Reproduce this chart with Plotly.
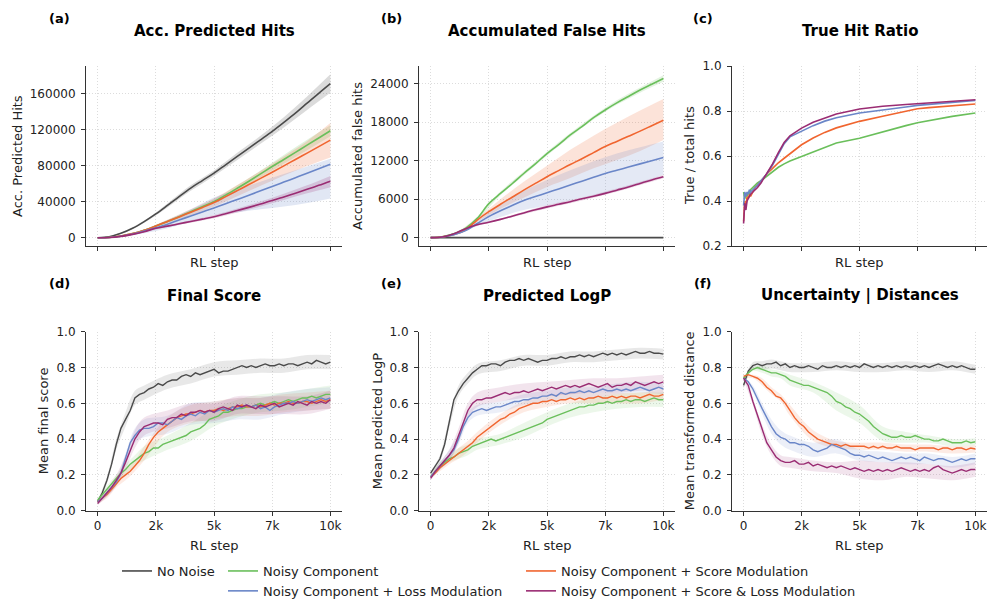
import plotly.graph_objects as go

# ---------------- series definitions ----------------
SERIES = ["No Noise", "Noisy Component", "Noisy Component + Score Modulation",
          "Noisy Component + Loss Modulation", "Noisy Component + Score & Loss Modulation"]
COLORS = ["#4a4a4a", "#6abf5b", "#f0652f", "#6a86c8", "#9a2c73"]
LEGEND_OF = ["legend", "legend2", "legend3", "legend2", "legend3"]

# ---------------- top row: cumulative quantities ----------------
X_TOP = [0, 500, 1000, 1500, 2000, 2500, 3000, 3500, 4000, 4500, 5000,
         5500, 6000, 6500, 7000, 7500, 8000, 8500, 9000, 9500, 10000]
X_TOP_BAND = [0, 1000, 2000, 3000, 4000, 5000, 6000, 7000, 8000, 9000, 10000]

# (a) accumulated predicted hits
hits_none = [0, 1000, 4800, 10400, 17800, 26300, 35800, 45600, 55000, 63300, 71500,
             80800, 90000, 99300, 108500, 117800, 127800, 138000, 149000, 160000, 170700]
hits_noisy = [0, 300, 1800, 4500, 8300, 13000, 18000, 23300, 28800, 34300, 40000,
              47200, 54800, 62600, 70700, 78900, 86700, 94600, 102500, 110500, 118500]
hits_score = [0, 300, 1800, 4500, 8300, 13000, 18000, 23000, 28300, 33500, 38900,
              45500, 52200, 58900, 65700, 72600, 79600, 86700, 93700, 100900, 108100]
hits_loss = [0, 250, 1600, 4000, 7300, 11000, 15000, 19600, 24000, 28500, 33000,
             37700, 42400, 47100, 51900, 56700, 61600, 66500, 71400, 76400, 81500]
hits_both = [0, 250, 1500, 3700, 6700, 10400, 12800, 15400, 18000, 20600, 23300,
             26600, 30100, 33600, 37300, 41100, 45200, 49300, 53600, 58000, 62600]

hits_none_lo = [0, 4000, 16500, 33500, 52000, 68500, 86000, 104000, 122000, 141500, 160500]
hits_none_hi = [0, 5600, 19000, 38000, 58000, 74500, 94000, 113000, 133500, 156500, 181000]
hits_noisy_lo = [0, 1500, 7500, 16500, 26800, 37500, 51500, 67000, 82000, 97000, 112500]
hits_noisy_hi = [0, 2100, 9100, 19500, 30800, 42500, 58000, 74500, 91500, 108500, 124500]
hits_score_lo = [0, 1500, 7400, 16000, 25000, 34500, 46000, 57500, 69000, 79500, 89000]
hits_score_hi = [0, 2100, 9200, 20000, 31600, 43500, 58500, 74000, 90000, 107000, 127000]
hits_loss_lo = [0, 1100, 5000, 10500, 18000, 25000, 28000, 31500, 34500, 38500, 43500]
hits_loss_hi = [0, 2100, 9000, 19500, 31500, 44500, 53500, 62000, 70500, 79000, 87500]
hits_both_lo = [0, 1300, 6100, 11800, 16600, 21500, 27800, 34500, 41800, 49200, 56000]
hits_both_hi = [0, 1700, 7300, 13800, 19400, 25100, 32400, 40100, 48600, 58000, 68500]

# (b) accumulated false hits
false_none = [0] * 21
false_noisy = [0, 150, 600, 1450, 3000, 5300, 6900, 8400, 10000, 11500, 13100,
               14500, 16000, 17300, 18700, 19900, 21000, 22000, 23000, 23900, 24800]
false_score = [0, 120, 500, 1200, 2750, 4050, 5200, 6300, 7400, 8450, 9500,
               10450, 11400, 12300, 13250, 14200, 15000, 15800, 16600, 17450, 18300]
false_loss = [0, 100, 450, 1100, 2200, 3300, 4200, 5000, 5800, 6400, 7000,
              7600, 8200, 8800, 9400, 10000, 10500, 11000, 11500, 12000, 12500]
false_both = [0, 100, 600, 1400, 2000, 2400, 2850, 3350, 3850, 4350, 4800,
              5200, 5600, 6050, 6450, 6900, 7400, 7900, 8450, 9000, 9500]

false_noisy_lo = [0, 500, 2800, 6600, 9700, 12800, 15700, 18400, 20700, 22600, 24300]
false_noisy_hi = [0, 700, 3200, 7200, 10300, 13400, 16300, 19000, 21400, 23400, 25300]
false_score_lo = [0, 420, 2450, 4500, 6200, 7900, 9300, 10800, 12100, 13500, 15200]
false_score_hi = [0, 580, 3050, 6000, 8700, 11200, 13700, 15900, 17900, 19800, 21600]
false_loss_lo = [0, 350, 1800, 3200, 4300, 5000, 5800, 6600, 7400, 8500, 9800]
false_loss_hi = [0, 550, 2600, 5200, 7300, 9000, 10500, 11900, 13100, 14100, 15000]
false_both_lo = [0, 500, 1850, 2700, 3650, 4550, 5350, 6200, 7150, 8200, 9250]
false_both_hi = [0, 700, 2150, 3000, 4050, 5050, 5850, 6700, 7650, 8700, 9750]

# (c) true / total hits
X_RATIO = [0, 50, 100, 150, 200, 250, 300, 400, 500, 600, 750, 1000, 1250, 1500,
           1750, 2000, 2500, 3000, 3500, 4000, 5000, 6000, 7000, 7500, 8000, 9000, 10000]
ratio_noisy = [0.44, 0.41, 0.43, 0.42, 0.44, 0.43, 0.45, 0.46, 0.47, 0.48, 0.49, 0.51, 0.53, 0.55,
               0.565, 0.578, 0.598, 0.618, 0.638, 0.658, 0.679, 0.708, 0.735, 0.748, 0.758, 0.776, 0.791]
ratio_score = [0.31, 0.40, 0.38, 0.42, 0.41, 0.43, 0.42, 0.44, 0.46, 0.47, 0.49, 0.52, 0.545, 0.57,
               0.59, 0.61, 0.65, 0.68, 0.705, 0.725, 0.754, 0.777, 0.797, 0.81, 0.815, 0.824, 0.831]
ratio_loss = [0.38, 0.44, 0.42, 0.44, 0.43, 0.45, 0.44, 0.45, 0.46, 0.47, 0.49, 0.52, 0.56, 0.61,
              0.655, 0.685, 0.709, 0.735, 0.755, 0.77, 0.791, 0.806, 0.818, 0.825, 0.83, 0.839, 0.847]
ratio_both = [0.30, 0.39, 0.36, 0.40, 0.41, 0.42, 0.43, 0.44, 0.45, 0.46, 0.48, 0.52, 0.565, 0.615,
              0.66, 0.69, 0.724, 0.75, 0.77, 0.787, 0.809, 0.821, 0.829, 0.832, 0.836, 0.843, 0.85]

# ---------------- bottom row: per-step means ----------------
X_STEP = list(range(0, 10001, 200))
X_BAND = [0, 400, 800, 1200, 1600, 2000, 3000, 4000, 5000, 6000, 7000, 8000, 9000, 10000]

# (d) mean final score
score_none = [0.05, 0.10, 0.17, 0.26, 0.37, 0.46, 0.51, 0.56, 0.63, 0.65, 0.66,
              0.68, 0.69, 0.71, 0.70, 0.72, 0.73, 0.73, 0.75, 0.76, 0.75,
              0.77, 0.76, 0.77, 0.78, 0.79, 0.77, 0.78, 0.78, 0.79, 0.80,
              0.81, 0.80, 0.81, 0.80, 0.81, 0.82, 0.81, 0.81, 0.82, 0.81,
              0.82, 0.82, 0.81, 0.82, 0.83, 0.82, 0.84, 0.83, 0.82, 0.83]
score_noisy = [0.06, 0.09, 0.12, 0.15, 0.18, 0.21, 0.23, 0.26, 0.28, 0.30, 0.32,
               0.33, 0.35, 0.35, 0.37, 0.38, 0.39, 0.40, 0.41, 0.42, 0.44,
               0.45, 0.46, 0.48, 0.51, 0.52, 0.53, 0.55, 0.55, 0.56, 0.57,
               0.57, 0.58, 0.58, 0.59, 0.60, 0.59, 0.60, 0.61, 0.60, 0.61,
               0.62, 0.61, 0.62, 0.63, 0.63, 0.64, 0.63, 0.64, 0.65, 0.65]
score_score = [0.05, 0.07, 0.09, 0.12, 0.15, 0.18, 0.20, 0.22, 0.25, 0.28, 0.32,
               0.37, 0.41, 0.44, 0.46, 0.48, 0.50, 0.52, 0.53, 0.54, 0.54,
               0.55, 0.56, 0.55, 0.56, 0.56, 0.57, 0.56, 0.57, 0.58, 0.58,
               0.59, 0.58, 0.58, 0.59, 0.58, 0.59, 0.60, 0.59, 0.60, 0.60,
               0.61, 0.60, 0.60, 0.61, 0.61, 0.60, 0.61, 0.62, 0.61, 0.62]
score_loss = [0.05, 0.07, 0.10, 0.13, 0.16, 0.21, 0.29, 0.38, 0.42, 0.45, 0.46,
              0.46, 0.47, 0.49, 0.49, 0.48, 0.50, 0.52, 0.51, 0.53, 0.54,
              0.53, 0.55, 0.54, 0.56, 0.55, 0.56, 0.57, 0.56, 0.58, 0.57,
              0.58, 0.59, 0.58, 0.59, 0.57, 0.58, 0.56, 0.58, 0.59, 0.60,
              0.60, 0.61, 0.60, 0.61, 0.62, 0.61, 0.62, 0.63, 0.62, 0.63]
score_both = [0.04, 0.07, 0.10, 0.13, 0.17, 0.21, 0.27, 0.34, 0.40, 0.44, 0.47,
              0.48, 0.49, 0.49, 0.48, 0.51, 0.52, 0.52, 0.54, 0.53, 0.55,
              0.55, 0.56, 0.55, 0.56, 0.55, 0.57, 0.58, 0.57, 0.56, 0.59,
              0.58, 0.59, 0.58, 0.57, 0.59, 0.58, 0.59, 0.60, 0.58, 0.59,
              0.60, 0.59, 0.61, 0.60, 0.59, 0.61, 0.60, 0.61, 0.60, 0.62]
score_spread = [
    [0.01, 0.02, 0.03, 0.04, 0.04, 0.04, 0.04, 0.04, 0.04, 0.04, 0.04, 0.04, 0.04, 0.04],
    [0.01, 0.02, 0.02, 0.03, 0.03, 0.04, 0.04, 0.05, 0.05, 0.05, 0.05, 0.05, 0.05, 0.05],
    [0.01, 0.02, 0.02, 0.03, 0.03, 0.04, 0.04, 0.05, 0.05, 0.05, 0.05, 0.05, 0.05, 0.05],
    [0.01, 0.02, 0.02, 0.03, 0.04, 0.05, 0.05, 0.06, 0.06, 0.06, 0.06, 0.06, 0.06, 0.06],
    [0.01, 0.02, 0.03, 0.04, 0.05, 0.05, 0.05, 0.05, 0.05, 0.05, 0.05, 0.05, 0.05, 0.05],
]

# (e) mean predicted LogP
logp_none = [0.21, 0.25, 0.29, 0.37, 0.49, 0.62, 0.67, 0.71, 0.74, 0.77, 0.79,
             0.81, 0.81, 0.82, 0.82, 0.81, 0.83, 0.84, 0.84, 0.85, 0.84,
             0.85, 0.84, 0.83, 0.84, 0.84, 0.85, 0.85, 0.86, 0.85, 0.86,
             0.86, 0.87, 0.86, 0.87, 0.86, 0.87, 0.88, 0.87, 0.88, 0.87,
             0.88, 0.87, 0.88, 0.89, 0.88, 0.88, 0.89, 0.88, 0.88, 0.875]
logp_noisy = [0.19, 0.22, 0.25, 0.27, 0.29, 0.30, 0.32, 0.33, 0.34, 0.36, 0.37,
              0.38, 0.39, 0.40, 0.39, 0.40, 0.41, 0.42, 0.43, 0.44, 0.45,
              0.46, 0.47, 0.48, 0.49, 0.51, 0.52, 0.53, 0.54, 0.55, 0.56,
              0.57, 0.58, 0.58, 0.59, 0.59, 0.60, 0.60, 0.61, 0.60, 0.61,
              0.61, 0.62, 0.61, 0.62, 0.62, 0.61, 0.62, 0.63, 0.62, 0.62]
logp_score = [0.19, 0.21, 0.24, 0.26, 0.28, 0.30, 0.32, 0.34, 0.36, 0.38, 0.41,
              0.43, 0.45, 0.47, 0.49, 0.51, 0.52, 0.54, 0.55, 0.57, 0.58,
              0.59, 0.60, 0.60, 0.61, 0.61, 0.62, 0.61, 0.62, 0.62, 0.63,
              0.62, 0.63, 0.62, 0.63, 0.63, 0.64, 0.63, 0.63, 0.64, 0.63,
              0.64, 0.63, 0.64, 0.64, 0.63, 0.64, 0.65, 0.64, 0.64, 0.65]
logp_loss = [0.19, 0.22, 0.25, 0.28, 0.31, 0.34, 0.40, 0.47, 0.52, 0.55, 0.56,
             0.57, 0.56, 0.57, 0.58, 0.58, 0.59, 0.60, 0.61, 0.61, 0.62,
             0.62, 0.63, 0.63, 0.64, 0.64, 0.65, 0.64, 0.66, 0.65, 0.66,
             0.66, 0.67, 0.66, 0.67, 0.66, 0.67, 0.68, 0.67, 0.67, 0.68,
             0.67, 0.68, 0.67, 0.68, 0.69, 0.68, 0.67, 0.68, 0.69, 0.68]
logp_both = [0.18, 0.22, 0.25, 0.28, 0.31, 0.35, 0.42, 0.50, 0.56, 0.60, 0.62,
             0.62, 0.63, 0.63, 0.64, 0.65, 0.66, 0.65, 0.66, 0.66, 0.67,
             0.66, 0.67, 0.68, 0.67, 0.68, 0.69, 0.68, 0.69, 0.70, 0.69,
             0.70, 0.69, 0.70, 0.71, 0.70, 0.69, 0.70, 0.71, 0.69, 0.70,
             0.70, 0.71, 0.70, 0.72, 0.71, 0.70, 0.71, 0.72, 0.71, 0.72]
logp_spread = [
    [0.01, 0.02, 0.03, 0.03, 0.03, 0.03, 0.03, 0.03, 0.03, 0.03, 0.03, 0.03, 0.03, 0.03],
    [0.01, 0.02, 0.02, 0.03, 0.03, 0.03, 0.03, 0.04, 0.04, 0.04, 0.04, 0.04, 0.04, 0.04],
    [0.01, 0.02, 0.02, 0.03, 0.03, 0.03, 0.03, 0.03, 0.03, 0.03, 0.03, 0.03, 0.03, 0.03],
    [0.01, 0.02, 0.03, 0.03, 0.03, 0.03, 0.03, 0.03, 0.03, 0.03, 0.03, 0.03, 0.03, 0.03],
    [0.01, 0.02, 0.03, 0.04, 0.04, 0.04, 0.04, 0.04, 0.04, 0.04, 0.04, 0.04, 0.04, 0.04],
]

# (f) mean transformed distance
dist_none = [0.70, 0.78, 0.81, 0.82, 0.81, 0.82, 0.82, 0.83, 0.81, 0.82, 0.80,
             0.81, 0.80, 0.80, 0.81, 0.80, 0.79, 0.81, 0.80, 0.80, 0.81,
             0.80, 0.81, 0.80, 0.81, 0.80, 0.82, 0.81, 0.80, 0.81, 0.80,
             0.81, 0.80, 0.81, 0.80, 0.81, 0.80, 0.81, 0.80, 0.81, 0.80,
             0.81, 0.82, 0.81, 0.80, 0.81, 0.80, 0.81, 0.80, 0.79, 0.79]
dist_noisy = [0.74, 0.77, 0.79, 0.80, 0.79, 0.78, 0.77, 0.77, 0.76, 0.75, 0.73,
              0.72, 0.71, 0.70, 0.70, 0.69, 0.68, 0.67, 0.66, 0.64, 0.61,
              0.60, 0.58, 0.57, 0.55, 0.54, 0.52, 0.50, 0.47, 0.45, 0.43,
              0.42, 0.41, 0.41, 0.42, 0.41, 0.41, 0.42, 0.41, 0.40, 0.40,
              0.39, 0.39, 0.40, 0.39, 0.38, 0.38, 0.38, 0.39, 0.38, 0.385]
dist_score = [0.75, 0.76, 0.75, 0.74, 0.72, 0.69, 0.67, 0.64, 0.63, 0.60, 0.56,
              0.52, 0.49, 0.47, 0.44, 0.42, 0.40, 0.39, 0.38, 0.37, 0.37,
              0.36, 0.37, 0.36, 0.36, 0.36, 0.36, 0.35, 0.36, 0.35, 0.36,
              0.35, 0.35, 0.36, 0.35, 0.35, 0.35, 0.34, 0.35, 0.35, 0.35,
              0.35, 0.34, 0.35, 0.35, 0.34, 0.35, 0.35, 0.34, 0.35, 0.345]
dist_loss = [0.74, 0.72, 0.68, 0.62, 0.57, 0.52, 0.47, 0.43, 0.41, 0.40, 0.38,
             0.38, 0.37, 0.37, 0.36, 0.34, 0.33, 0.34, 0.35, 0.37, 0.36,
             0.35, 0.34, 0.32, 0.31, 0.31, 0.30, 0.31, 0.30, 0.29, 0.30,
             0.29, 0.28, 0.29, 0.30, 0.29, 0.30, 0.29, 0.28, 0.30, 0.29,
             0.28, 0.29, 0.29, 0.28, 0.27, 0.28, 0.29, 0.28, 0.29, 0.29]
dist_both = [0.74, 0.70, 0.61, 0.53, 0.45, 0.38, 0.34, 0.30, 0.28, 0.27, 0.27,
             0.28, 0.26, 0.26, 0.27, 0.25, 0.26, 0.25, 0.24, 0.25, 0.24,
             0.25, 0.24, 0.23, 0.24, 0.23, 0.22, 0.23, 0.22, 0.23, 0.22,
             0.23, 0.22, 0.23, 0.24, 0.23, 0.22, 0.23, 0.22, 0.23, 0.22,
             0.24, 0.25, 0.23, 0.22, 0.21, 0.22, 0.23, 0.22, 0.23, 0.23]
dist_spread = [
    [0.02, 0.02, 0.025, 0.025, 0.025, 0.025, 0.025, 0.025, 0.025, 0.025, 0.025, 0.025, 0.025, 0.025],
    [0.01, 0.01, 0.02, 0.02, 0.02, 0.03, 0.03, 0.05, 0.05, 0.04, 0.03, 0.02, 0.02, 0.02],
    [0.01, 0.01, 0.02, 0.02, 0.02, 0.03, 0.03, 0.02, 0.02, 0.02, 0.02, 0.02, 0.02, 0.02],
    [0.01, 0.02, 0.03, 0.04, 0.04, 0.04, 0.04, 0.04, 0.03, 0.03, 0.03, 0.03, 0.03, 0.03],
    [0.01, 0.02, 0.03, 0.03, 0.03, 0.03, 0.03, 0.03, 0.05, 0.05, 0.04, 0.04, 0.04, 0.04],
]

STEP_TICKS = [0, 2500, 5000, 7500, 10000]
STEP_LABELS = ["0", "2k", "5k", "7k", "10k"]

PANEL_LABELS = ["(a)", "(b)", "(c)", "(d)", "(e)", "(f)"]
PANEL_TITLES = ["Acc. Predicted Hits", "Accumulated False Hits", "True Hit Ratio",
                "Final Score", "Predicted LogP", "Uncertainty | Distances"]
Y_TITLES = ["Acc. Predicted Hits", "Accumulated false hits", "True / total hits",
            "Mean final score", "Mean predicted LogP", "Mean transformed distance"]

# ---------------- figure geometry (pixels) ----------------
W, H = 987, 599
COLS = [(86, 342), (419, 675), (732, 987)]
ROWS = [(66, 246), (331.7, 510.7)]
FONT = "DejaVu Sans"


def px_x(v):
    return v / W


def px_y(v):
    return 1 - v / H


def rgba(hex_color, a):
    h = hex_color.lstrip("#")
    return "rgba(%d,%d,%d,%.2f)" % (int(h[0:2], 16), int(h[2:4], 16), int(h[4:6], 16), a)


fig = go.Figure()


def add_band(k, xs, lo, hi, color, alpha, shape):
    ax = "" if k == 1 else str(k)
    fig.add_trace(go.Scatter(x=xs, y=lo, mode="lines", line=dict(width=0, shape=shape),
                             showlegend=False, hoverinfo="skip",
                             xaxis="x" + ax, yaxis="y" + ax))
    fig.add_trace(go.Scatter(x=xs, y=hi, mode="lines", line=dict(width=0, shape=shape),
                             fill="tonexty", fillcolor=rgba(color, alpha),
                             showlegend=False, hoverinfo="skip",
                             xaxis="x" + ax, yaxis="y" + ax))


def add_line(k, xs, ys, i, shape, width, legend=False):
    ax = "" if k == 1 else str(k)
    fig.add_trace(go.Scatter(x=xs, y=ys, mode="lines", name=SERIES[i],
                             line=dict(color=COLORS[i], width=width, shape=shape),
                             showlegend=legend, legend=LEGEND_OF[i],
                             xaxis="x" + ax, yaxis="y" + ax))


# (a)
hits = [hits_none, hits_noisy, hits_score, hits_loss, hits_both]
hits_lo = [hits_none_lo, hits_noisy_lo, hits_score_lo, hits_loss_lo, hits_both_lo]
hits_hi = [hits_none_hi, hits_noisy_hi, hits_score_hi, hits_loss_hi, hits_both_hi]
for i in range(5):
    add_band(1, X_TOP_BAND, hits_lo[i], hits_hi[i], COLORS[i], 0.2, "spline")
for i in range(5):
    add_line(1, X_TOP, hits[i], i, "spline", 1.6, legend=True)

# (b)
falses = [false_none, false_noisy, false_score, false_loss, false_both]
false_lo = [None, false_noisy_lo, false_score_lo, false_loss_lo, false_both_lo]
false_hi = [None, false_noisy_hi, false_score_hi, false_loss_hi, false_both_hi]
for i in range(1, 5):
    add_band(2, X_TOP_BAND, false_lo[i], false_hi[i], COLORS[i], 0.18, "spline")
for i in range(5):
    add_line(2, X_TOP, falses[i], i, "spline", 1.6)

# (c)
ratios = [None, ratio_noisy, ratio_score, ratio_loss, ratio_both]
for i in range(1, 5):
    add_line(3, X_RATIO, ratios[i], i, "linear", 1.6)

# bottom row
band_idx = [x // 200 for x in X_BAND]
bottom = [
    (4, [score_none, score_noisy, score_score, score_loss, score_both], score_spread),
    (5, [logp_none, logp_noisy, logp_score, logp_loss, logp_both], logp_spread),
    (6, [dist_none, dist_noisy, dist_score, dist_loss, dist_both], dist_spread),
]
for k, series, spread in bottom:
    for i in range(5):
        centre = [series[i][j] for j in band_idx]
        lo = [c - s for c, s in zip(centre, spread[i])]
        hi = [c + s for c, s in zip(centre, spread[i])]
        add_band(k, X_BAND, lo, hi, COLORS[i], 0.13, "spline")
    for i in range(5):
        add_line(k, X_STEP, series[i], i, "linear", 1.4)

# ---------------- axes ----------------
axis_common = dict(showline=True, linecolor="#333333", linewidth=1.1, mirror=False,
                   ticks="outside", ticklen=4, tickwidth=1, tickcolor="#333333",
                   showgrid=True, gridcolor="#dcdcdc", griddash="1px,2px", gridwidth=0.8,
                   zeroline=False, tickfont=dict(size=12, color="#222222", family=FONT))

y_settings = [
    dict(range=[-9200, 190250], tickvals=[0, 40000, 80000, 120000, 160000], tickformat="d"),
    dict(range=[-1300, 26750], tickvals=[0, 6000, 12000, 18000, 24000], tickformat="d"),
    dict(range=[0.2, 1.0], tickvals=[0.2, 0.4, 0.6, 0.8, 1.0], tickformat=".1f"),
    dict(range=[0, 1.0], tickvals=[0, 0.2, 0.4, 0.6, 0.8, 1.0], tickformat=".1f"),
    dict(range=[0, 1.0], tickvals=[0, 0.2, 0.4, 0.6, 0.8, 1.0], tickformat=".1f"),
    dict(range=[0, 1.0], tickvals=[0, 0.2, 0.4, 0.6, 0.8, 1.0], tickformat=".1f"),
]

layout_axes = {}
annotations = []
for k in range(1, 7):
    r, c = (k - 1) // 3, (k - 1) % 3
    x0, x1 = COLS[c]
    y0, y1 = ROWS[r]
    sfx = "" if k == 1 else str(k)
    layout_axes["xaxis" + sfx] = dict(
        axis_common, domain=[px_x(x0), px_x(x1)], anchor="y" + sfx,
        range=[-500, 10500], tickvals=STEP_TICKS, ticktext=STEP_LABELS,
        showticklabels=(r == 1))
    layout_axes["yaxis" + sfx] = dict(
        axis_common, domain=[px_y(y1), px_y(y0)], anchor="x" + sfx,
        ticklabelstandoff=3, **y_settings[k - 1])

    cx = (x0 + x1) / 2
    title_y = 30.7 if r == 0 else 295.7
    label_y = 19 if r == 0 else 283
    label_x = [59, 391, 703][c]
    ylab_x = [[17, 357, 689], [43, 377, 689]][r][c]
    xlab_y = 262 if r == 0 else 545
    annotations += [
        dict(text="<b>%s</b>" % PANEL_TITLES[k - 1], x=px_x(cx), y=px_y(title_y),
             font=dict(size=15, color="#000000", family=FONT)),
        dict(text="<b>%s</b>" % PANEL_LABELS[k - 1], x=px_x(label_x), y=px_y(label_y),
             font=dict(size=13, color="#000000", family=FONT)),
        dict(text=Y_TITLES[k - 1], x=px_x(ylab_x), y=px_y((y0 + y1) / 2), textangle=-90,
             font=dict(size=13, color="#222222", family=FONT)),
        dict(text="RL step", x=px_x(cx), y=px_y(xlab_y),
             font=dict(size=13, color="#222222", family=FONT)),
    ]

for a in annotations:
    a.update(xref="paper", yref="paper", showarrow=False, xanchor="center", yanchor="middle")

legend_common = dict(xanchor="left", yanchor="top", y=px_y(556), bgcolor="rgba(0,0,0,0)",
                     font=dict(size=13, color="#222222", family=FONT),
                     tracegroupgap=0, itemwidth=30, orientation="v")

fig.update_layout(
    width=W, height=H, margin=dict(l=0, r=0, t=0, b=0, autoexpand=False),
    paper_bgcolor="white", plot_bgcolor="white",
    font=dict(family=FONT, color="#222222"),
    annotations=annotations,
    legend=dict(legend_common, x=px_x(117)),
    legend2=dict(legend_common, x=px_x(223)),
    legend3=dict(legend_common, x=px_x(521)),
    **layout_axes,
)

fig.write_html("out.html")
